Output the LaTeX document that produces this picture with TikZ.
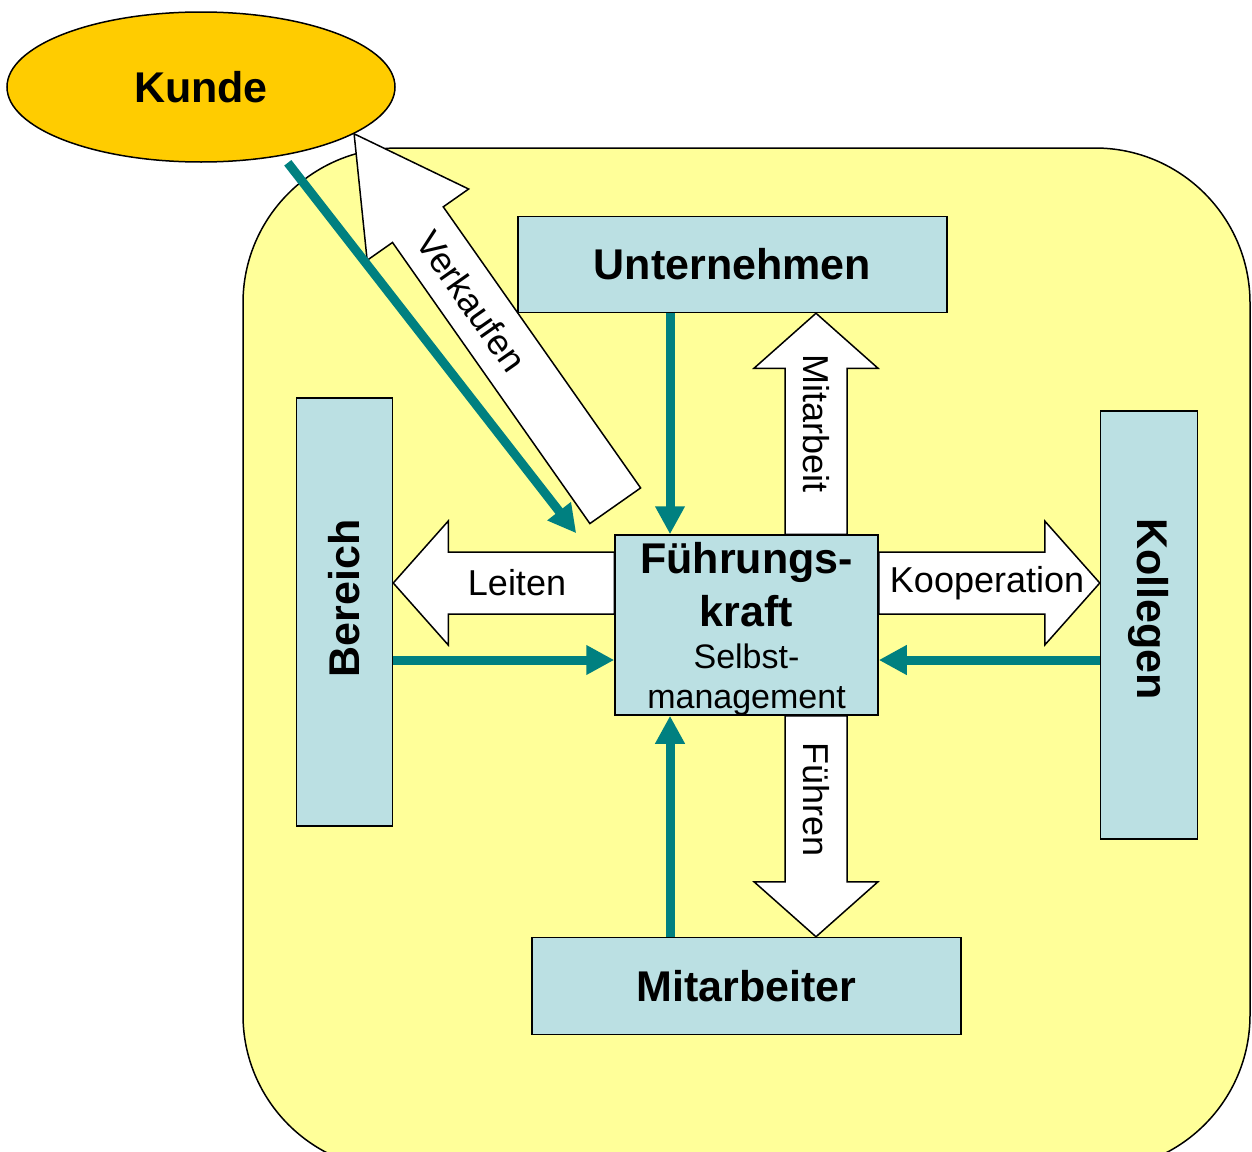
\documentclass[tikz,border=0pt]{standalone}
\usepackage{fontspec}
\setmainfont{Liberation Sans}
\usepackage{graphicx}
\usetikzlibrary{positioning,calc,shapes.geometric,arrows.meta}
\definecolor{hellgelb}{HTML}{FFFF99}
\definecolor{kundegelb}{HTML}{FFCC00}
\definecolor{kastenblau}{HTML}{BBE0E3}
\definecolor{petrol}{HTML}{008080}
\pgfdeclarelayer{bg}
\pgfsetlayers{bg,main}
% white block arrow: tail, tip, head length
\newcommand\blockpfeil[3]{%
  \coordinate (hb) at ($(#2)!#3!(#1)$);
  \draw[weisspfeil] ($(#1)!31pt!90:(#2)$) -- ($(hb)!31pt!90:(#2)$) -- ($(hb)!62pt!90:(#2)$) -- (#2)
    -- ($(hb)!62pt!-90:(#2)$) -- ($(hb)!31pt!-90:(#2)$) -- ($(#1)!31pt!-90:(#2)$) -- cycle;
}

\begin{document}
\begin{tikzpicture}[x=1pt,y=-1pt,node distance=221pt]
\tikzstyle{box}=[draw,fill=kastenblau,line width=1.5pt,inner sep=0pt,font=\bfseries\fontsize{43}{53}\selectfont]
\tikzstyle{pfeil}=[draw=petrol,line width=9pt,-{Triangle[length=28pt,width=28pt]}]
\tikzstyle{weisspfeil}=[draw,fill=white,line width=1.5pt,line join=miter]
\tikzstyle{beschr}=[inner sep=0pt,font=\fontsize{36}{42}\selectfont]
\useasboundingbox (0,0) rectangle (1252,1151);

\node[box,minimum width=263pt,minimum height=180pt,align=center] (fk) at (746.5,625)
  {Führungs-\\kraft\\[-11pt]{\mdseries\fontsize{34}{40}\selectfont Selbst-}\\[-13pt]{\mdseries\fontsize{34}{40}\selectfont \raisebox{0pt}[\height][0pt]{management}}};
\node[box,above=of fk,xshift=-14pt,minimum width=429pt,minimum height=96pt] (unt) {Unternehmen};
\node[box,below=of fk,minimum width=429pt,minimum height=97pt] (mit) {Mitarbeiter};
\node[box,left=of fk,yshift=13pt,minimum width=96pt,minimum height=428pt] (ber) {\rotatebox{90}{\hspace{27pt}Bereich}};
\node[box,right=of fk,minimum width=97pt,minimum height=428pt] (kol) {\rotatebox{-90}{Kollegen\hspace{32pt}}};
\node[ellipse,draw,fill=kundegelb,line width=1.5pt,inner sep=0pt,minimum width=388pt,minimum height=150pt,
  font=\bfseries\fontsize{43}{53}\selectfont] (kunde) at (201,87) {Kunde};

\coordinate (m1) at ($(fk.center)+(69.5,0)$);
\coordinate (l1) at ($(fk.center)+(0,-42)$);
\coordinate (t1) at ($(fk.center)+(-76.5,0)$);
\coordinate (t2) at ($(fk.center)+(0,35)$);
\coordinate (vt) at ($(fk.north west)+(1,-28.5)$);
\coordinate (vk) at ($(fk.north west)+(-38,-1)$);

\begin{pgfonlayer}{bg}
\draw[fill=hellgelb,line width=1.5pt,rounded corners=155pt] (243,148) rectangle (1250,1170);
\blockpfeil{fk.north -| m1}{unt.south -| m1}{55pt}
\blockpfeil{fk.south -| m1}{mit.north -| m1}{55pt}
\blockpfeil{fk.west |- l1}{ber.east |- l1}{55pt}
\blockpfeil{fk.east |- l1}{kol.west |- l1}{55pt}
\blockpfeil{vt}{kunde.-17}{111pt}
\end{pgfonlayer}

\path (fk.north -| m1) -- node[beschr,rotate=-90] {Mitarbeit} (unt.south -| m1);
\path (fk.south -| m1) -- node[beschr,pos=0.38,rotate=-90] {Führen} (mit.north -| m1);
\path (fk.west |- l1) -- node[beschr,pos=0.44] {Leiten} (ber.east |- l1);
\path (fk.east |- l1) -- node[beschr,pos=0.49] {Kooperation} (kol.west |- l1);
\path (vt) -- node[beschr,pos=0.55,sloped] {Verkaufen} (kunde.-17);

\draw[pfeil] (unt.south -| t1) -- (fk.north -| t1);
\draw[pfeil] (mit.north -| t1) -- (fk.south -| t1);
\draw[pfeil] (ber.east |- t2) -- (fk.west |- t2);
\draw[pfeil] (kol.west |- t2) -- (fk.east |- t2);
\draw[pfeil] ($(kunde.-38)+(0,8)$) -- (vk);
\end{tikzpicture}
\end{document}
